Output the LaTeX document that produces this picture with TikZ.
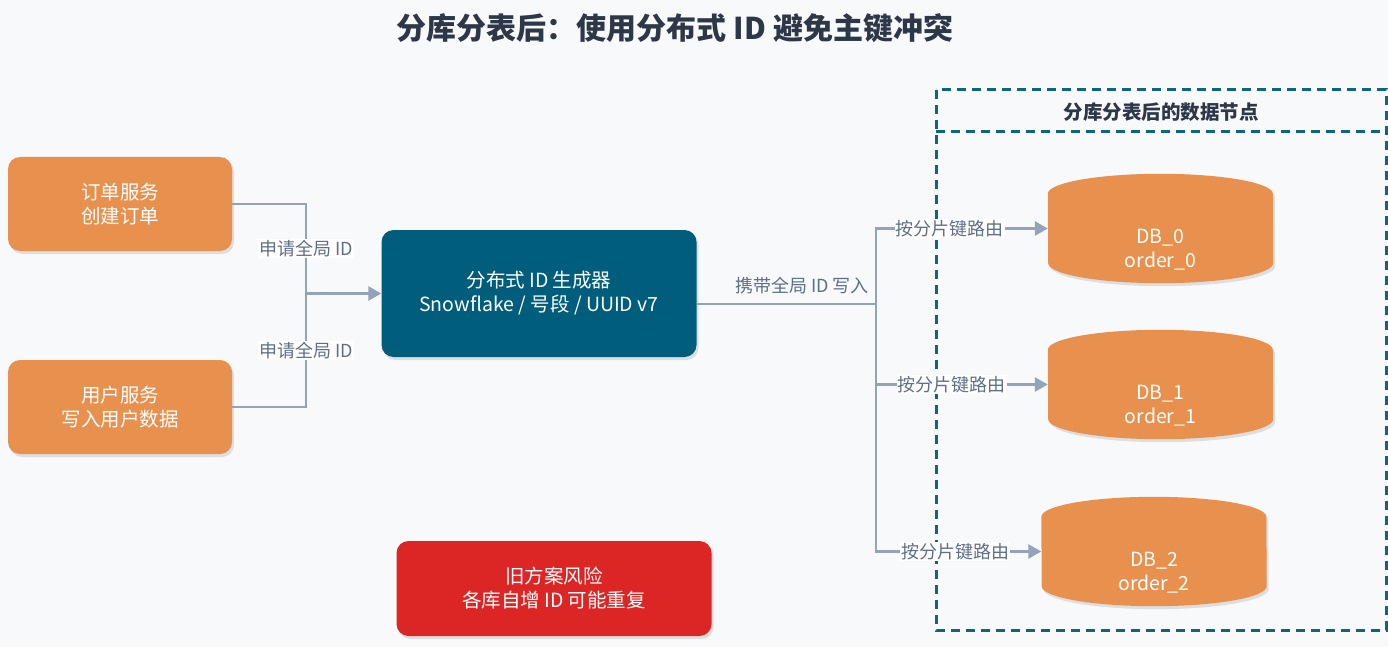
\documentclass[tikz,border=0pt]{standalone}
\usepackage{fontspec}
\setmainfont{Noto Sans CJK SC}
\usetikzlibrary{arrows.meta,shadows,positioning}
\definecolor{bgc}{HTML}{F7F9FB}
\definecolor{orangec}{HTML}{E8914F}
\definecolor{tealc}{HTML}{005D7B}
\definecolor{redc}{HTML}{DC2626}
\definecolor{linec}{HTML}{94A3B8}
\definecolor{labelc}{HTML}{5F6F85}
\definecolor{titlec}{HTML}{2D3748}
\definecolor{dashc}{HTML}{0F6580}
\tikzset{
  shad/.style={drop shadow={shadow xshift=2pt,shadow yshift=-3pt,opacity=0.18,fill=black!60}},
  boxnode/.style={rounded corners=12pt,text=white,align=center,inner sep=0pt,
     font=\fontsize{19.5}{24}\selectfont,shad},
  svcbox/.style={boxnode,fill=orangec,minimum width=224pt,minimum height=94pt},
  genbox/.style={boxnode,fill=tealc,minimum width=315pt,minimum height=127pt},
  riskbox/.style={boxnode,fill=redc,minimum width=315pt,minimum height=95pt},
  dbnode/.style={minimum width=225pt,minimum height=109pt,inner sep=0pt},
  dbtext/.style={text=white,align=center,font=\fontsize{19.5}{24}\selectfont},
  conn/.style={draw=linec,line width=2.6pt},
  arr/.style={conn,-{Triangle[length=13pt,width=14pt]}},
  lbl/.style={fill=white,text=labelc,font=\fontsize{18}{20}\selectfont,inner sep=1pt},
}
\newcommand\dbcyl[1]{%
  \path[fill=orangec,shad] ([yshift=-20pt]#1.north west)
    arc[start angle=180,end angle=0,x radius=112.5pt,y radius=20pt]
    -- ([yshift=20pt]#1.south east)
    arc[start angle=0,end angle=-180,x radius=112.5pt,y radius=20pt] -- cycle;}
\begin{document}
\begin{tikzpicture}[x=1pt,y=-1pt]
\fill[bgc] (0,0) rectangle (1388,647);
\useasboundingbox (0,0) rectangle (1388,647);

\node[font=\bfseries\fontsize{30}{34}\selectfont,text=titlec] (title) at (675,28) {分库分表后：使用分布式 ID 避免主键冲突};

% container
\draw[dashc,line width=3pt,dash pattern=on 9pt off 6pt] (936,90) rectangle (1386,630);
\draw[dashc,line width=3pt,dash pattern=on 9pt off 6pt] (936,132) -- (1386,132);
\node[font=\bfseries\fontsize{19.5}{22}\selectfont,text=titlec] (ctitle) at (1161,112) {分库分表后的数据节点};

% boxes
\node[svcbox] (o) at (120,204) {订单服务\\创建订单};
\node[svcbox] (u) at (120,407) {用户服务\\写入用户数据};
\node[genbox] (g) at (539,293.5) {分布式 ID 生成器\\Snowflake / 号段 / UUID v7};
\node[riskbox] (r) at (554,588.5) {旧方案风险\\各库自增 ID 可能重复};

% databases
\node[dbnode] (d0) at (1160.5,228.5) {};
\node[dbnode] (d1) at (1160.5,384.5) {};
\node[dbnode] (d2) at (1154,551.5) {};
\dbcyl{d0}\dbcyl{d1}\dbcyl{d2}
\node[dbtext] (t0) at ([yshift=-21pt]d0.center) {DB\_0\\order\_0};
\node[dbtext] (t1) at ([yshift=-21pt]d1.center) {DB\_1\\order\_1};
\node[dbtext] (t2) at ([yshift=-21pt]d2.center) {DB\_2\\order\_2};

% left connectors
\coordinate (j1) at (306,293.5);
\draw[conn] (o.east) -| (j1) node[lbl,pos=0.75] {申请全局 ID};
\draw[conn] (u.east) -| (j1) node[lbl,pos=0.75] {申请全局 ID};
\draw[arr] (j1) -- (g.west);

% right connectors
\coordinate (j2) at (876,304);
\draw[conn] ([yshift=-10.5pt]g.east) -- (j2) node[pos=0.587,above=5pt,text=labelc,font=\fontsize{18}{20}\selectfont] (wl) {携带全局 ID 写入};
\draw[arr] (j2) |- (d0.west) node[lbl,pos=0.715] {按分片键路由};
\draw[arr] (j2) |- (d1.west) node[lbl,pos=0.72] {按分片键路由};
\draw[arr] (j2) |- (d2.west) node[lbl,pos=0.74] {按分片键路由};
\end{tikzpicture}
\end{document}
